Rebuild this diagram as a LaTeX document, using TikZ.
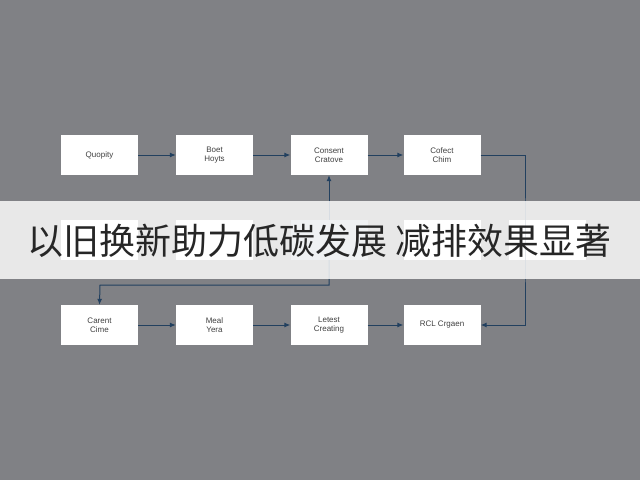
\documentclass[tikz,border=0pt]{standalone}
\usepackage{fontspec}
\setmainfont{Liberation Sans}
\newfontfamily\cjk{Noto Sans CJK SC}
\usetikzlibrary{arrows.meta}
\definecolor{bg}{HTML}{808185}
\definecolor{ln}{HTML}{22405F}
\begin{document}
\begin{tikzpicture}[x=1pt,y=-1pt,
 box/.style={draw=none,fill=white,minimum width=77pt,minimum height=40pt,inner sep=0pt,align=center,font=\fontsize{8}{9}\selectfont,text=black!75},
 con/.style={draw=ln,line width=1pt,-{Latex[length=6pt,width=5pt]}}]
\fill[bg] (0,0) rectangle (640,480);
\useasboundingbox (0,0) rectangle (640,480);
\node[box] (a1) at (99.5,155) {Quopity};
\node[box] (a2) at (214.5,155) {Boet\\Hoyts};
\node[box] (a3) at (329,155) {Consent\\Cratove};
\node[box] (a4) at (442,155) {Cofect\\Chim};
\node[box] (m1) at (99.5,240) {};
\node[box] (m2) at (214.5,240) {};
\node[box,fill=ln!40!white] (m3) at (329,240) {};
\node[box] (m4) at (442,240) {};
\node[box] (m5) at (547,240) {};
\node[box] (c1) at (99.5,325) {Carent\\Cime};
\node[box] (c2) at (214.5,325) {Meal\\Yera};
\node[box] (c3) at (329,325) {Letest\\Creating};
\node[box] (c4) at (442,325) {RCL Crgaen};
\draw[con] (a1) -- (a2);
\draw[con] (a2) -- (a3);
\draw[con] (a3) -- (a4);
\draw[con] (c1) -- (c2);
\draw[con] (c2) -- (c3);
\draw[con] (c3) -- (c4);
\draw[con] (a4.east) -| (525,240) |- (c4.east);
\draw[con] (m3) -- (a3);
\draw[con] (m3.south) |- (100,285) -- (c1.north);
\fill[white,opacity=0.82] (0,201) rectangle (640,279);
\node[font=\cjk\fontsize{36}{36}\selectfont,text=black!85] (t) at (320,241) {以旧换新助力低碳发展 减排效果显著};
\end{tikzpicture}
\end{document}
